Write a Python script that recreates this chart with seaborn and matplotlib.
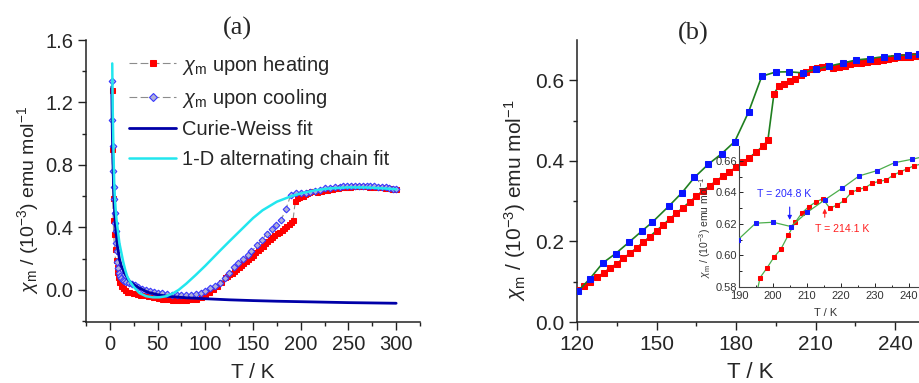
import numpy as np
import pandas as pd
import matplotlib
matplotlib.use("Agg")
import matplotlib.pyplot as plt
import seaborn as sns

# --- DATA ---
# heating, low temperature part (panel a only)
heat_T_low = [2, 2.5, 3, 3.5, 4, 5, 6, 7, 8, 9, 10, 12, 14, 16, 18, 20, 24, 28, 32, 36, 40, 45, 50,
              55, 60, 65, 70, 75, 80, 85, 90, 95, 100, 104, 108, 112, 116]
heat_X_low = [1.28, 0.90, 0.59, 0.45, 0.36, 0.26, 0.19, 0.15, 0.115, 0.08, 0.05, 0.025, 0.01, 0.0,
              -0.01, -0.015, -0.02, -0.025, -0.03, -0.035, -0.04, -0.045, -0.05, -0.055, -0.06,
              -0.064, -0.065, -0.066, -0.064, -0.06, -0.055, -0.045, -0.03, -0.015, 0.005, 0.025, 0.05]
# heating, 120-250 K (panel b, also used in panel a)
heat_T = [120.5, 122.5, 125, 127.5, 130, 132.5, 135, 137.5, 140, 142.5, 145, 147.5, 150, 152.5,
          155, 157.5, 160, 162.5, 165, 167.5, 170, 172.5, 175, 177.5, 180, 182.5, 185, 187.5, 190,
          192, 194.3, 196.2, 198.2, 200.3, 202.3, 204.5, 206.5, 208.5, 210.5, 212.6, 214.6, 216.7,
          218.8, 221.0, 223.0, 225.1, 227.1, 229.2, 231.2, 233.3, 235.3, 237.3, 239.4, 241.5, 243.5,
          245.5, 247.5, 249.5]
heat_X = [0.080, 0.089, 0.100, 0.111, 0.122, 0.134, 0.145, 0.158, 0.171, 0.184, 0.198, 0.212,
          0.227, 0.241, 0.256, 0.270, 0.284, 0.298, 0.312, 0.326, 0.338, 0.350, 0.362, 0.373,
          0.384, 0.396, 0.408, 0.421, 0.436, 0.451, 0.567, 0.586, 0.592, 0.599, 0.604, 0.613,
          0.621, 0.627, 0.631, 0.634, 0.636, 0.630, 0.632, 0.635, 0.640, 0.642, 0.643, 0.646,
          0.647, 0.648, 0.651, 0.653, 0.655, 0.657, 0.658, 0.659, 0.660, 0.661]
heat_T_high = [252, 256, 260, 264, 268, 272, 276, 280, 284, 288, 292, 296, 300]
heat_X_high = [0.662, 0.663, 0.664, 0.664, 0.663, 0.662, 0.661, 0.659, 0.657, 0.655, 0.652, 0.649, 0.646]

# cooling
cool_T_low = [2, 2.5, 3, 3.5, 4, 4.5, 5, 5.5, 6, 6.5, 7, 8, 9, 10, 11, 12, 13.5, 15, 17, 20, 23, 26,
              30, 34, 38, 42, 46, 50, 55, 60, 65, 70, 75, 80, 85, 90, 95, 100, 105, 110, 115]
cool_X_low = [1.34, 1.09, 0.92, 0.76, 0.66, 0.58, 0.49, 0.43, 0.38, 0.30, 0.25, 0.18, 0.14, 0.11,
              0.09, 0.075, 0.062, 0.055, 0.05, 0.045, 0.04, 0.032, 0.02, 0.008, 0.0, -0.008, -0.013,
              -0.018, -0.022, -0.026, -0.03, -0.032, -0.034, -0.034, -0.032, -0.028, -0.02, -0.005,
              0.01, 0.025, 0.045]
cool_T = [120.4, 124.8, 129.8, 134.6, 139.6, 144.5, 148.3, 154.7, 159.6, 164.3, 169.6, 174.6, 179.5,
          184.7, 189.7, 194.9, 200.0, 205.2, 210.1, 215.2, 220.3, 225.3, 230.6, 235.7, 240.7, 244.7, 249]
cool_X = [0.077, 0.107, 0.147, 0.170, 0.198, 0.226, 0.247, 0.288, 0.321, 0.359, 0.392, 0.418, 0.448,
          0.521, 0.610, 0.6205, 0.6211, 0.6184, 0.6275, 0.6353, 0.6427, 0.6505, 0.6539, 0.6589,
          0.661, 0.663, 0.665]
cool_T_high = [253, 257, 261, 265, 269, 273, 277, 281, 285, 289, 293, 297, 300]
cool_X_high = [0.667, 0.668, 0.668, 0.668, 0.667, 0.666, 0.664, 0.662, 0.659, 0.656, 0.652, 0.648, 0.645]

# fits
cw_T = [2, 2.5, 3, 4, 5, 6, 8, 10, 12, 15, 20, 25, 30, 40, 50, 60, 80, 100, 125, 150, 175, 200,
        225, 250, 275, 300]
cw_X = [1.30, 1.05, 0.87, 0.64, 0.50, 0.40, 0.28, 0.20, 0.155, 0.11, 0.06, 0.035, 0.015, -0.015,
        -0.03, -0.04, -0.05, -0.056, -0.063, -0.068, -0.072, -0.075, -0.078, -0.081, -0.083, -0.085]
chain_T = [2.5, 3, 3.5, 4, 4.5, 5, 6, 7, 8, 10, 12, 14, 16, 18, 20, 25, 31, 38, 45, 52, 59, 66, 72,
           80, 90, 100, 108, 116, 125, 140, 150, 160, 175, 190, 200, 215, 230, 250, 270, 285, 300]
chain_X = [1.45, 1.15, 0.98, 0.83, 0.70, 0.62, 0.52, 0.45, 0.40, 0.30, 0.24, 0.18, 0.13, 0.09, 0.064,
           0.02, -0.02, -0.04, -0.047, -0.047, -0.04, -0.022, 0.0, 0.04, 0.096, 0.155, 0.205, 0.255,
           0.31, 0.40, 0.46, 0.51, 0.565, 0.60, 0.618, 0.638, 0.65, 0.657, 0.656, 0.651, 0.645]

# --- STYLE ---
sns.set_style("ticks")
plt.rcParams['font.family'] = ['Liberation Sans', 'DejaVu Sans']
plt.rcParams['mathtext.fontset'] = 'custom'
plt.rcParams['mathtext.rm'] = 'Liberation Sans'
plt.rcParams['mathtext.it'] = 'Liberation Sans:italic'
plt.rcParams['mathtext.bf'] = 'Liberation Sans:bold'

YLAB = r'$\chi_\mathrm{m}$ / (10$^{-3}$) emu mol$^{-1}$'
RED = '#ff0000'
GREEN = '#1f7f1f'

fig = plt.figure(figsize=(9.19, 3.83), dpi=100)
W, H = 919, 383


def box(x0, y0, x1, y1):
    return [x0 / W, 1 - y1 / H, (x1 - x0) / W, (y1 - y0) / H]


def style_axes(ax, size=14, major=5.5, minor=3, direction='out'):
    sns.despine(ax=ax)
    for s in ['left', 'bottom']:
        ax.spines[s].set_color('#222222')
        ax.spines[s].set_linewidth(1.1)
    ax.tick_params(which='major', length=major, width=1, labelsize=size, direction=direction,
                   color='#222222')
    ax.tick_params(which='minor', length=minor, width=1, direction=direction, color='#222222')
    ax.set_facecolor('none')


# --- PANEL (a) ---
ax1 = fig.add_axes(box(86, 40, 420, 322))
hT = np.concatenate([heat_T_low, heat_T, heat_T_high])
hX = np.concatenate([heat_X_low, heat_X, heat_X_high])
cT = np.concatenate([cool_T_low, cool_T, cool_T_high])
cX = np.concatenate([cool_X_low, cool_X, cool_X_high])

sns.lineplot(x=hT, y=hX, ax=ax1, sort=False, estimator=None, color='#8c8c8c', lw=0.8,
             linestyle=(0, (7, 3)), marker='s', markersize=3.6, markerfacecolor=RED,
             markeredgecolor=RED, label=r'$\chi_\mathrm{m}$ upon heating', zorder=3)
sns.lineplot(x=cT, y=cX, ax=ax1, sort=False, estimator=None, color='#8c8c8c', lw=0.8,
             linestyle=(0, (7, 3)), marker='D', markersize=3.4, markerfacecolor='#b0b0d8',
             markeredgecolor='#3838ff', markeredgewidth=0.8,
             label=r'$\chi_\mathrm{m}$ upon cooling', zorder=4)
sns.lineplot(x=cw_T, y=cw_X, ax=ax1, sort=False, estimator=None, color='#0000a8', lw=2,
             label='Curie-Weiss fit', zorder=5)
sns.lineplot(x=chain_T, y=chain_X, ax=ax1, sort=False, estimator=None, color='#22e6ee', lw=1.8,
             label='1-D alternating chain fit', zorder=6)

ax1.set_xlim(-25, 325)
ax1.set_ylim(-0.205, 1.6)
ax1.set_xticks([0, 50, 100, 150, 200, 250, 300])
ax1.set_xticks(np.arange(-25, 326, 25), minor=True)
ax1.set_yticks([0.0, 0.4, 0.8, 1.2, 1.6])
ax1.set_yticks([-0.2, 0.2, 0.6, 1.0, 1.4], minor=True)
ax1.yaxis.set_major_formatter(matplotlib.ticker.FormatStrFormatter('%.1f'))
ax1.set_xlabel('')
ax1.set_ylabel('')
style_axes(ax1, size=14.5)
leg = ax1.legend(loc='upper left', bbox_to_anchor=(0.13, 0.952), frameon=False, fontsize=14.5,
                 handlelength=2.3, handletextpad=0.3, labelspacing=0.52, borderpad=0,
                 borderaxespad=0, markerscale=1.2)

# --- PANEL (b) ---
ax2 = fig.add_axes(box(577, 40, 919, 322))
sns.lineplot(x=heat_T, y=heat_X, ax=ax2, sort=False, estimator=None, color=GREEN, lw=1.2,
             marker='s', markersize=4.0, markerfacecolor=RED, markeredgecolor=RED, zorder=3)
sns.lineplot(x=cool_T, y=cool_X, ax=ax2, sort=False, estimator=None, color=GREEN, lw=1.2,
             marker='s', markersize=4.6, markerfacecolor='#0a14ff', markeredgecolor='#0a14ff',
             zorder=4)
ax2.set_xlim(120, 249)
ax2.set_ylim(0, 0.7)
ax2.set_xticks([120, 150, 180, 210, 240])
ax2.set_xticks([135, 165, 195, 225], minor=True)
ax2.set_yticks([0.0, 0.2, 0.4, 0.6])
ax2.set_yticks([0.1, 0.3, 0.5], minor=True)
ax2.yaxis.set_major_formatter(matplotlib.ticker.FormatStrFormatter('%.1f'))
ax2.set_xlabel('')
ax2.set_ylabel('')
style_axes(ax2, size=15)

# --- INSET ---
ax3 = fig.add_axes(box(739, 146, 919, 287))
sns.lineplot(x=heat_T, y=heat_X, ax=ax3, sort=False, estimator=None, color='#4cae4c', lw=0.9,
             marker='s', markersize=2.2, markerfacecolor=RED, markeredgecolor=RED, zorder=3)
sns.lineplot(x=cool_T, y=cool_X, ax=ax3, sort=False, estimator=None, color='#4cae4c', lw=0.9,
             marker='s', markersize=2.2, markerfacecolor='#1a1aff', markeredgecolor='#1a1aff',
             zorder=4)
ax3.set_xlim(190, 242.9)
ax3.set_ylim(0.58, 0.6695)
ax3.set_xticks([190, 200, 210, 220, 230, 240])
ax3.set_xticks([195, 205, 215, 225, 235], minor=True)
ax3.set_yticks([0.58, 0.60, 0.62, 0.64, 0.66])
ax3.set_yticks([0.59, 0.61, 0.63, 0.65], minor=True)
ax3.yaxis.set_major_formatter(matplotlib.ticker.FormatStrFormatter('%.2f'))
ax3.set_xlabel('')
ax3.set_ylabel('')
style_axes(ax3, size=8, major=3, minor=1.8, direction='in')
for s in ['left', 'bottom']:
    ax3.spines[s].set_linewidth(0.8)
    ax3.spines[s].set_color('#444444')
ax3.tick_params(which='both', width=0.7, labelcolor='#333333')
ax3.tick_params(axis='x', pad=3)
ax3.tick_params(axis='y', pad=1.5)

ax3.annotate('', xy=(204.9, 0.6208), xytext=(204.9, 0.6325),
             arrowprops=dict(arrowstyle='-|>', color='#1a1aff', lw=0.8, mutation_scale=6))
ax3.text(195.2, 0.6392, 'T = 204.8 K', color='#2a2aff', fontsize=7.6, va='center', ha='left')
ax3.annotate('', xy=(215.2, 0.6315), xytext=(215.2, 0.6225),
             arrowprops=dict(arrowstyle='-|>', color='#ff2020', lw=0.8, mutation_scale=6))
ax3.text(212.4, 0.6165, 'T = 214.1 K', color='#ff2020', fontsize=7.6, va='center', ha='left')

# --- TEXTS ---
fig.text(237 / W, 1 - 28 / H, '(a)', family=['Liberation Serif', 'DejaVu Serif'], fontsize=19,
         ha='center', va='center')
fig.text(693 / W, 1 - 33 / H, '(b)', family=['Liberation Serif', 'DejaVu Serif'], fontsize=19,
         ha='center', va='center')
fig.text(253 / W, 1 - 372 / H, 'T / K', fontsize=15, ha='center', va='center')
fig.text(750 / W, 1 - 372 / H, 'T / K', fontsize=16, ha='center', va='center')
fig.text(28 / W, 1 - 200 / H, YLAB, fontsize=14, rotation=90, ha='center', va='center')
fig.text(515 / W, 1 - 200 / H, YLAB, fontsize=15, rotation=90, ha='center', va='center')
fig.text(705 / W, 1 - 227 / H, YLAB, fontsize=7.5, rotation=90, ha='center', va='center',
         color='#333333')
fig.text(826 / W, 1 - 313 / H, 'T / K', fontsize=8, ha='center', va='center', color='#333333')

fig.savefig('out.png', dpi=100)
